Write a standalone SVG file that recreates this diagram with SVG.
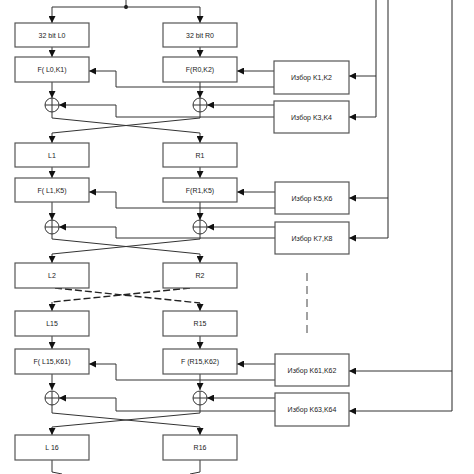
<svg xmlns="http://www.w3.org/2000/svg" width="474" height="474" viewBox="0 0 474 474">
<style>
.box{fill:#fff;stroke:#555;stroke-width:1.2}
.t{font-family:"Liberation Sans",Arial,sans-serif;font-size:7px;fill:#222;text-anchor:middle;dominant-baseline:central}
.ln{fill:none;stroke:#333;stroke-width:1}
.gl{fill:none;stroke:#777;stroke-width:1.6}
.dl{fill:none;stroke:#222;stroke-width:1.4;stroke-dasharray:7,3}
.dv{fill:none;stroke:#444;stroke-width:1;stroke-dasharray:8,5}
.x{fill:#fff;stroke:#333;stroke-width:1}
</style>
<defs>
<marker id="a" markerWidth="7" markerHeight="7" refX="7" refY="3.5" orient="auto" markerUnits="userSpaceOnUse">
<path d="M0,0 L7,3.5 L0,7 Z" fill="#111"/>
</marker>
</defs>
<g id="connectors">
<!-- top split -->
<path class="ln" d="M126,0 V7"/>
<circle cx="126" cy="7" r="2" fill="#111"/>
<path class="ln" d="M52,7 H200"/>
<path class="ln" d="M52,7 V23" marker-end="url(#a)"/>
<path class="ln" d="M200,7 V23" marker-end="url(#a)"/>
<!-- round A -->
<path class="ln" d="M52,47 V57" marker-end="url(#a)"/>
<path class="ln" d="M200,47 V57" marker-end="url(#a)"/>
<path class="ln" d="M52,82 V98" marker-end="url(#a)"/>
<path class="ln" d="M200,82 V98" marker-end="url(#a)"/>
<path class="ln" d="M274,71 H237" marker-end="url(#a)"/>
<path class="ln" d="M274,87 H116 V71 H89" marker-end="url(#a)"/>
<path class="ln" d="M274,105 H207" marker-end="url(#a)"/>
<path class="ln" d="M274,117 H116 V105 H59" marker-end="url(#a)"/>
<path class="ln" d="M52,112 V118 L200,133 V143" marker-end="url(#a)"/>
<path class="ln" d="M200,112 V118 L52,133 V143" marker-end="url(#a)"/>
<path class="gl" d="M376,0 V117"/>
<path class="ln" d="M376,76 H349" marker-end="url(#a)"/>
<path class="ln" d="M376,117 H349" marker-end="url(#a)"/>
<!-- round B -->
<path class="ln" d="M52,167 V178" marker-end="url(#a)"/>
<path class="ln" d="M200,167 V178" marker-end="url(#a)"/>
<path class="ln" d="M52,202 V220" marker-end="url(#a)"/>
<path class="ln" d="M200,202 V220" marker-end="url(#a)"/>
<path class="ln" d="M275,192 H237" marker-end="url(#a)"/>
<path class="ln" d="M275,208 H116 V192 H89" marker-end="url(#a)"/>
<path class="ln" d="M275,227 H207" marker-end="url(#a)"/>
<path class="ln" d="M275,238 H116 V227 H59" marker-end="url(#a)"/>
<path class="ln" d="M52,234 V239 L200,254 V263" marker-end="url(#a)"/>
<path class="ln" d="M200,234 V239 L52,254 V263" marker-end="url(#a)"/>
<path class="gl" d="M388,0 V238"/>
<path class="ln" d="M388,198 H349" marker-end="url(#a)"/>
<path class="ln" d="M388,238 H349" marker-end="url(#a)"/>
<!-- dashed skip -->
<path class="dl" d="M55,288 L200,303"/>
<path class="dl" d="M190,288 L52,302"/>
<path class="ln" d="M200,303 V311" marker-end="url(#a)"/>
<path class="ln" d="M52,302 V311" marker-end="url(#a)"/>
<path class="dv" d="M307,273 V338"/>
<!-- round C -->
<path class="ln" d="M52,336 V349" marker-end="url(#a)"/>
<path class="ln" d="M200,336 V349" marker-end="url(#a)"/>
<path class="ln" d="M52,374 V390" marker-end="url(#a)"/>
<path class="ln" d="M200,374 V390" marker-end="url(#a)"/>
<path class="ln" d="M275,364 H237" marker-end="url(#a)"/>
<path class="ln" d="M275,380 H116 V364 H89" marker-end="url(#a)"/>
<path class="ln" d="M275,398 H207" marker-end="url(#a)"/>
<path class="ln" d="M275,411 H116 V398 H59" marker-end="url(#a)"/>
<path class="ln" d="M52,405 V413 L200,427 V435" marker-end="url(#a)"/>
<path class="ln" d="M200,405 V413 L52,427 V435" marker-end="url(#a)"/>
<path class="gl" d="M452,0 V411"/>
<path class="ln" d="M452,371 H349" marker-end="url(#a)"/>
<path class="ln" d="M452,411 H349" marker-end="url(#a)"/>
<!-- bottom stubs -->
<path class="ln" d="M52,460 V472 L62,474"/>
<path class="ln" d="M200,460 V472 L190,474"/>
</g>
<g id="L0"><rect class="box" x="15" y="23" width="74" height="24"/><text class="t" x="52" y="35">32 bit L0</text></g>
<g id="R0"><rect class="box" x="163" y="23" width="74" height="24"/><text class="t" x="200" y="35">32 bit R0</text></g>
<g id="FL0"><rect class="box" x="15" y="57" width="74" height="25"/><text class="t" x="52" y="69.5">F( L0,K1)</text></g>
<g id="FR0"><rect class="box" x="163" y="57" width="74" height="25"/><text class="t" x="200" y="69.5">F(R0,K2)</text></g>
<g id="K12"><rect class="box" x="274" y="61" width="75" height="33"/><text class="t" x="311.5" y="77.5">Избор K1,K2</text></g>
<g id="K34"><rect class="box" x="274" y="101" width="75" height="32"/><text class="t" x="311.5" y="117">Избор K3,K4</text></g>
<g id="XL0"><circle class="x" cx="52" cy="105" r="7"/><path class="ln" d="M45,105 H59 M52,98 V112"/></g>
<g id="XR0"><circle class="x" cx="200" cy="105" r="7"/><path class="ln" d="M193,105 H207 M200,98 V112"/></g>
<g id="L1"><rect class="box" x="15" y="143" width="74" height="24"/><text class="t" x="52" y="155">L1</text></g>
<g id="R1"><rect class="box" x="163" y="143" width="74" height="24"/><text class="t" x="200" y="155">R1</text></g>
<g id="FL1"><rect class="box" x="15" y="178" width="74" height="24"/><text class="t" x="52" y="190">F( L1,K5)</text></g>
<g id="FR1"><rect class="box" x="163" y="178" width="74" height="24"/><text class="t" x="200" y="190">F(R1,K5)</text></g>
<g id="K56"><rect class="box" x="275" y="182" width="74" height="32"/><text class="t" x="312" y="198">Избор K5,K6</text></g>
<g id="K78"><rect class="box" x="275" y="222" width="74" height="32"/><text class="t" x="312" y="238">Избор K7,K8</text></g>
<g id="XL1"><circle class="x" cx="52" cy="227" r="7"/><path class="ln" d="M45,227 H59 M52,220 V234"/></g>
<g id="XR1"><circle class="x" cx="200" cy="227" r="7"/><path class="ln" d="M193,227 H207 M200,220 V234"/></g>
<g id="L2"><rect class="box" x="15" y="263" width="74" height="25"/><text class="t" x="52" y="275.5">L2</text></g>
<g id="R2"><rect class="box" x="163" y="263" width="74" height="25"/><text class="t" x="200" y="275.5">R2</text></g>
<g id="L15"><rect class="box" x="15" y="311" width="74" height="25"/><text class="t" x="52" y="323.5">L15</text></g>
<g id="R15"><rect class="box" x="163" y="311" width="74" height="25"/><text class="t" x="200" y="323.5">R15</text></g>
<g id="FL15"><rect class="box" x="15" y="349" width="74" height="25"/><text class="t" x="52" y="361.5">F( L15,K61)</text></g>
<g id="FR15"><rect class="box" x="163" y="349" width="74" height="25"/><text class="t" x="200" y="361.5">F (R15,K62)</text></g>
<g id="K6162"><rect class="box" x="275" y="354" width="74" height="32"/><text class="t" x="312" y="370">Избор K61,K62</text></g>
<g id="K6364"><rect class="box" x="275" y="393" width="74" height="33"/><text class="t" x="312" y="409.5">Избор K63,K64</text></g>
<g id="XL15"><circle class="x" cx="52" cy="398" r="7"/><path class="ln" d="M45,398 H59 M52,391 V405"/></g>
<g id="XR15"><circle class="x" cx="200" cy="398" r="7"/><path class="ln" d="M193,398 H207 M200,391 V405"/></g>
<g id="L16"><rect class="box" x="15" y="435" width="74" height="25"/><text class="t" x="52" y="447.5">L 16</text></g>
<g id="R16"><rect class="box" x="163" y="435" width="74" height="25"/><text class="t" x="200" y="447.5">R16</text></g>
</svg>
